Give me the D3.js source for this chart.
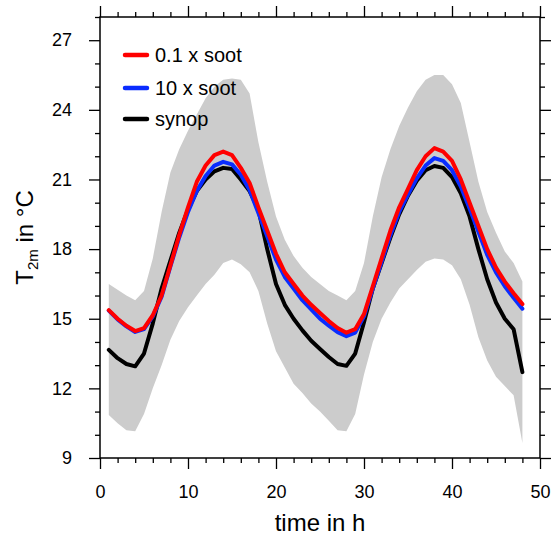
<!DOCTYPE html>
<html>
<head>
<meta charset="utf-8">
<script src="https://cdn.jsdelivr.net/npm/d3@7"></script>
<style>
  body { margin: 0; background: #fff; }
  svg { display: block; }
  text { font-family: "Liberation Sans", Arial, Helvetica, sans-serif; fill: #000; }
</style>
</head>
<body>
<svg id="chart" width="552" height="536"></svg>
<script>
// ---- data (hourly, h = 1..48) ----
const hours = d3.range(1, 49);
const soot01 = [15.37,15.0,14.7,14.47,14.6,15.15,16.0,17.3,18.6,19.8,20.9,21.6,22.05,22.2,22.05,21.5,20.85,19.8,18.8,17.8,17.0,16.5,16.0,15.6,15.25,14.9,14.6,14.4,14.55,15.2,16.4,17.6,18.8,19.8,20.6,21.4,22.0,22.35,22.2,21.8,21.0,20.0,19.0,18.0,17.2,16.6,16.1,15.63];
const soot10 = [15.35,14.97,14.67,14.43,14.55,15.1,15.95,17.25,18.5,19.6,20.5,21.15,21.6,21.76,21.65,21.2,20.55,19.55,18.55,17.55,16.8,16.3,15.8,15.4,15.0,14.7,14.42,14.25,14.4,15.1,16.3,17.45,18.6,19.6,20.35,21.05,21.6,21.92,21.8,21.4,20.7,19.75,18.75,17.75,17.0,16.4,15.9,15.43];
const synop = [13.66,13.3,13.05,12.95,13.5,14.8,16.3,17.5,18.7,19.7,20.5,21.0,21.35,21.5,21.45,21.0,20.5,19.7,18.0,16.5,15.6,15.0,14.5,14.05,13.7,13.35,13.05,12.97,13.5,14.85,16.3,17.4,18.5,19.5,20.3,20.95,21.4,21.58,21.5,21.1,20.4,19.4,18.0,16.7,15.7,15.0,14.55,12.7];
const bandUpper = [16.5,16.25,16.0,15.8,16.2,17.6,19.6,21.3,22.3,23.1,23.8,24.5,25.0,25.3,25.35,25.3,24.7,22.6,20.9,19.4,18.4,17.7,17.2,16.8,16.5,16.2,16.0,15.8,16.2,17.4,19.4,21.1,22.3,23.3,24.1,24.8,25.3,25.5,25.5,25.1,24.3,22.6,20.9,19.6,18.7,17.9,17.4,16.6];
const bandLower = [10.85,10.5,10.2,10.15,10.9,12.0,13.0,14.1,14.9,15.5,16.0,16.5,16.9,17.4,17.55,17.35,17.0,16.2,14.8,13.6,12.9,12.2,11.8,11.35,11.0,10.6,10.2,10.15,10.9,12.6,14.0,15.0,15.7,16.3,16.7,17.1,17.45,17.6,17.55,17.3,16.7,15.6,14.2,13.2,12.5,12.1,11.7,9.65];

const xMajor = [0,10,20,30,40,50];
const xMinor = d3.range(0, 51, 2).filter(v => v % 10 !== 0);
const yMajor = [9,12,15,18,21,24,27];
const yMinor = d3.range(9, 29, 1).filter(v => v % 3 !== 0);

const seriesNames = ["0.1 x soot", "10 x soot", "synop"];
const seriesColors = ["#ff0000", "#0a2cff", "#000000"];
const seriesData = [soot01, soot10, synop];

// ---- layout ----
const L = 100, R = 540, T = 17, B = 458;
const svg = d3.select("#chart");
const x = d3.scaleLinear().domain([0, 50]).range([L, R]);
const y = d3.scaleLinear().domain([9, 28]).range([B, T]);

// band
const area = d3.area()
  .x((d, i) => x(hours[i]))
  .y0((d, i) => y(bandLower[i]))
  .y1((d, i) => y(bandUpper[i]));
svg.append("path").datum(hours).attr("d", area).attr("fill", "#cccccc");

// lines (black, blue, red on top)
const line = d3.line().x((d, i) => x(hours[i])).y(d => y(d));
[2, 1, 0].forEach(k => {
  svg.append("path").datum(seriesData[k]).attr("d", line)
    .attr("fill", "none").attr("stroke", seriesColors[k])
    .attr("stroke-width", 4).attr("stroke-linejoin", "round").attr("stroke-linecap", "round");
});

// axes
function styleAxis(g, labels) {
  g.select(".domain").remove();
  g.selectAll(".tick line").attr("stroke", "#000").attr("stroke-width", 1.3);
  if (!labels) g.selectAll(".tick text").remove();
  else g.selectAll(".tick text").attr("font-size", 18).attr("font-family", "Liberation Sans, Arial, sans-serif");
}
svg.append("g").attr("transform", `translate(${L},0)`)
  .call(d3.axisLeft(y).tickValues(yMajor).tickSize(11).tickPadding(17).tickFormat(d3.format("d")))
  .call(g => styleAxis(g, true));
svg.append("g").attr("transform", `translate(${L},0)`)
  .call(d3.axisLeft(y).tickValues(yMinor).tickSize(5))
  .call(g => styleAxis(g, false));
svg.append("g").attr("transform", `translate(${R},0)`)
  .call(d3.axisRight(y).tickValues(yMajor).tickSize(11))
  .call(g => styleAxis(g, false));
svg.append("g").attr("transform", `translate(${R},0)`)
  .call(d3.axisRight(y).tickValues(yMinor).tickSize(5))
  .call(g => styleAxis(g, false));
svg.append("g").attr("transform", `translate(0,${B})`)
  .call(d3.axisBottom(x).tickValues(xMajor).tickSize(11).tickPadding(16).tickFormat(d3.format("d")))
  .call(g => styleAxis(g, true));
svg.append("g").attr("transform", `translate(0,${B})`)
  .call(d3.axisBottom(x).tickValues(xMinor).tickSize(5))
  .call(g => styleAxis(g, false));
svg.append("g").attr("transform", `translate(0,${T})`)
  .call(d3.axisTop(x).tickValues(xMajor).tickSize(11))
  .call(g => styleAxis(g, false));
svg.append("g").attr("transform", `translate(0,${T})`)
  .call(d3.axisTop(x).tickValues(xMinor).tickSize(5))
  .call(g => styleAxis(g, false));

// frame
svg.append("rect").attr("x", L).attr("y", T).attr("width", R - L).attr("height", B - T)
  .attr("fill", "none").attr("stroke", "#000").attr("stroke-width", 1.5);

// legend
const legY = [55, 88, 119];
seriesNames.forEach((name, k) => {
  svg.append("line").attr("x1", 125).attr("x2", 147).attr("y1", legY[k]).attr("y2", legY[k])
    .attr("stroke", seriesColors[k]).attr("stroke-width", 4.5).attr("stroke-linecap", "round");
  svg.append("text").attr("x", 155).attr("y", legY[k]).attr("dy", "0.35em")
    .attr("font-size", 20).text(name);
});

// axis titles
svg.append("text").attr("x", (L + R) / 2).attr("y", 531).attr("text-anchor", "middle")
  .attr("font-size", 24).text("time in h");
const yt = svg.append("text").attr("transform", `translate(33,${(T + B) / 2}) rotate(-90)`)
  .attr("text-anchor", "middle").attr("font-size", 24);
yt.append("tspan").text("T");
yt.append("tspan").attr("font-size", 15).attr("dy", 5).text("2m");
yt.append("tspan").attr("dy", -5).text(" in \u00B0C");
</script>
</body>
</html>
